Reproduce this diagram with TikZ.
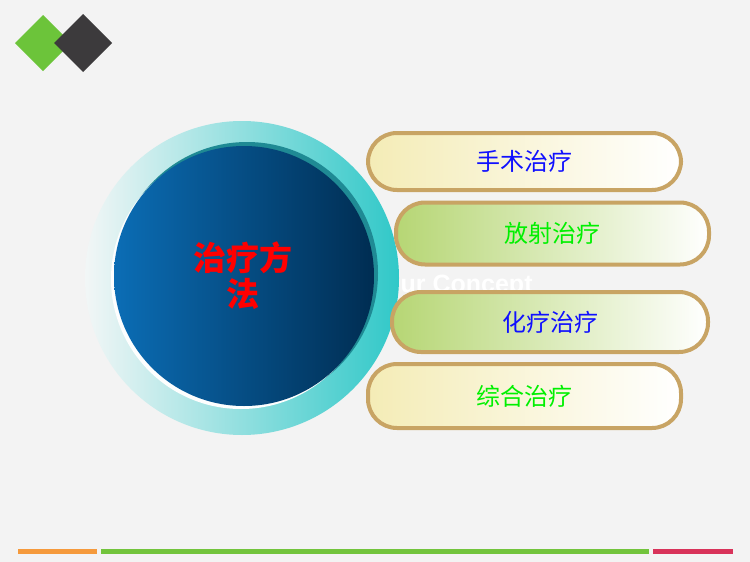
\documentclass[tikz,border=0pt]{standalone}
\usepackage{fontspec}
\newfontfamily\cjk{Noto Sans CJK SC}
\newfontfamily\wmfont{Liberation Sans}
\definecolor{bg}{HTML}{F3F3F3}
\definecolor{dgreen}{HTML}{6CC43A}
\definecolor{dgray}{HTML}{3C3A3C}
\definecolor{ringl}{HTML}{F2F6F6}
\definecolor{ringr}{HTML}{30C8C8}
\definecolor{shadowteal}{HTML}{1F8A94}
\definecolor{bluel}{HTML}{0B6DB5}
\definecolor{bluer}{HTML}{002D52}
\definecolor{tan}{HTML}{C8A464}
\definecolor{pyellow}{HTML}{F4ECB6}
\definecolor{pgreen}{HTML}{B6D674}
\definecolor{tblue}{HTML}{1010FF}
\definecolor{tgreen}{HTML}{00F000}
\definecolor{barorange}{HTML}{F59A3C}
\definecolor{bargreen}{HTML}{72C43C}
\definecolor{barred}{HTML}{D8335A}
\tikzset{
  pill/.style={draw=tan, line width=4pt, rounded corners=29pt, minimum width=313pt, inner sep=0pt, right color=white, font=\cjk\fontsize{24}{28}\selectfont},
  ypill/.style={pill, left color=pyellow},
  gpill/.style={pill, left color=pgreen},
  bar/.style={line width=5pt},
}
\begin{document}
\begin{tikzpicture}[x=1pt,y=-1pt]
\useasboundingbox (0,0) rectangle (750,562);
\fill[bg] (0,0) rectangle (750,562);
% logo diamonds
\fill[dgreen] (43,15) -- (71,43) -- (43,71) -- (15,43) -- cycle;
\fill[dgray] (83,14) -- (112,43) -- (83,72) -- (54,43) -- cycle;
% watermark
\node[anchor=west, text=white, font=\wmfont\bfseries\fontsize{25}{28}\selectfont, inner sep=0pt] (wm) at (381,286) {Our Concept};
% ring
\shade[left color=ringl, right color=ringr] (242,278) circle (157);
\fill[shadowteal] (247,273) circle (131);
\fill[white!85!ringl] (241,279) circle (130);
\shade[left color=bluel, right color=bluer] (244,276) circle (130);
\node[align=center, text=red, font=\cjk\bfseries\fontsize{33}{36}\selectfont] (title) at (243,276) {治疗方\\法};
% pills
\node[ypill, minimum height=57pt] (p1) at (524.5,161.5) {\textcolor{tblue}{手术治疗}};
\node[gpill, minimum height=62pt] (p2) at (552.5,233.5) {\textcolor{tgreen}{放射治疗}};
\node[gpill, minimum height=60pt, minimum width=316pt] (p3) at (550,322) {\textcolor{tblue}{化疗治疗}};
\node[ypill, minimum height=64pt] (p4) at (524.5,396) {\textcolor{tgreen}{综合治疗}};
% bottom bars
\draw[bar, barorange] (18,551) -- (97,551);
\draw[bar, bargreen] (101,551) -- (649,551);
\draw[bar, barred] (653,551) -- (733,551);
\end{tikzpicture}
\end{document}
